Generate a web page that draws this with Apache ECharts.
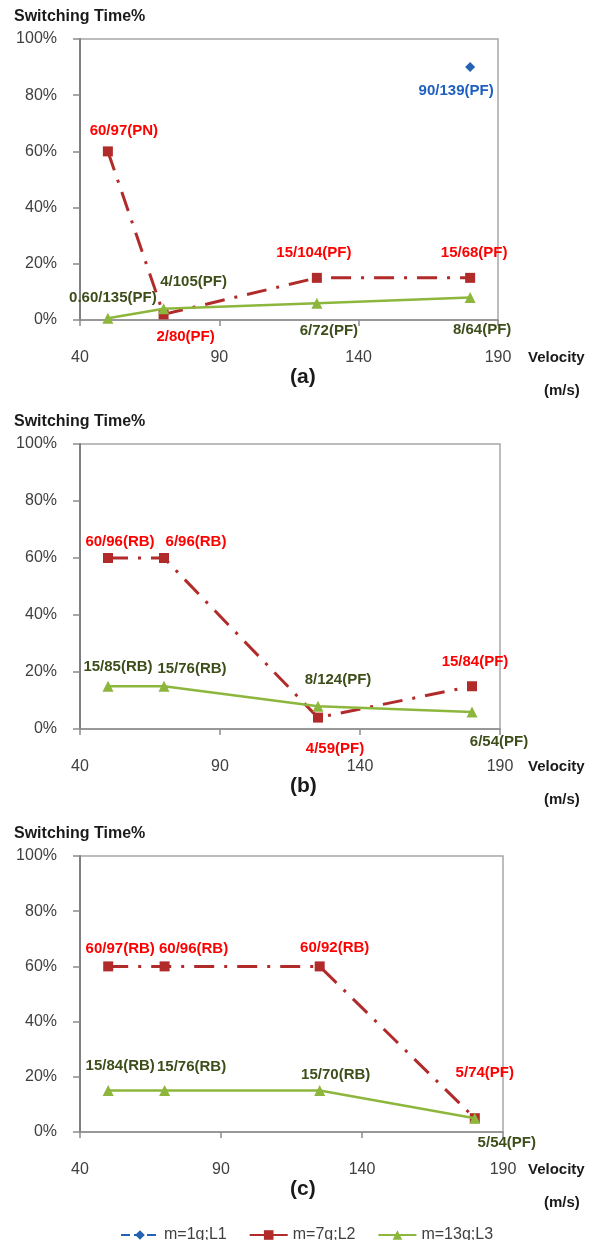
<!DOCTYPE html>
<html>
<head>
<meta charset="utf-8">
<script src="https://cdn.jsdelivr.net/npm/echarts@6/dist/echarts.min.js"></script>
<style>
  html, body { margin: 0; padding: 0; background: #ffffff; }
  #chart { width: 600px; height: 1240px; }
</style>
</head>
<body>
<div id="chart"></div>
<script>
// ---- data -------------------------------------------------------------
const velocity = [50, 70, 125, 180];          // m/s
const xRange = [40, 190];
const xStep = 50;
const yRange = [0, 100];
const yStep = 20;
const seriesNames = ['m=1g;L1', 'm=7g;L2', 'm=13g;L3'];
const panelNames = ['(a)', '(b)', '(c)'];

// panel (a)
const l1A = [null, null, null, 90];
const l1ALabels = ['', '', '', '90/139(PF)'];
const l2A = [60, 2, 15, 15];
const l2ALabels = ['60/97(PN)', '2/80(PF)', '15/104(PF)', '15/68(PF)'];
const l3A = [0.6, 4, 6, 8];
const l3ALabels = ['0.60/135(PF)', '4/105(PF)', '6/72(PF)', '8/64(PF)'];

// panel (b)
const l2B = [60, 60, 4, 15];
const l2BLabels = ['60/96(RB)', '6/96(RB)', '4/59(PF)', '15/84(PF)'];
const l3B = [15, 15, 8, 6];
const l3BLabels = ['15/85(RB)', '15/76(RB)', '8/124(PF)', '6/54(PF)'];

// panel (c)
const l2C = [60, 60, 60, 5];
const l2CLabels = ['60/97(RB)', '60/96(RB)', '60/92(RB)', '5/74(PF)'];
const l3C = [15, 15, 15, 5];
const l3CLabels = ['15/84(RB)', '15/76(RB)', '15/70(RB)', '5/54(PF)'];

// ---- layout & style ----------------------------------------------------
const FONT = 'Arial, "Liberation Sans", Helvetica, sans-serif';

const panelBoxes = [
  { left: 80, top: 39,  width: 418, height: 281 },
  { left: 80, top: 444, width: 420, height: 285 },
  { left: 80, top: 856, width: 423, height: 276 }
];

// label offsets (px) from each marker, per panel and line
const labelShift = [
  { l1: [null, null, null, [-14, 24]],
    l2: [[16, -21], [22, 22], [-3, -25], [4, -25]],
    l3: [[5, -20], [30, -27], [12, 28], [12, 32]] },
  { l2: [[12, -16], [32, -16], [17, 31], [3, -24]],
    l3: [[10, -19], [28, -17], [20, -26], [27, 30]] },
  { l2: [[12, -18], [29, -18], [15, -19], [10, -45]],
    l3: [[12, -25], [27, -24], [16, -16], [32, 25]] }
];

const lineStyles = {
  l1: { name: seriesNames[0], color: '#2462B4', symbol: 'diamond', symbolSize: 10,
        type: [7, 4], width: 2.5, labelColor: '#1F5FBF' },
  l2: { name: seriesNames[1], color: '#B22B2B', symbol: 'rect', symbolSize: 10,
        type: [20, 10, 3, 10], width: 3, labelColor: '#FF0000' },
  l3: { name: seriesNames[2], color: '#8DB63C', symbol: 'triangle', symbolSize: 11,
        type: 'solid', width: 2.5, labelColor: '#3E4E1B' }
};

const panels = [
  { l1: [l1A, l1ALabels], l2: [l2A, l2ALabels], l3: [l3A, l3ALabels] },
  { l1: null,             l2: [l2B, l2BLabels], l3: [l3B, l3BLabels] },
  { l1: null,             l2: [l2C, l2CLabels], l3: [l3C, l3CLabels] }
];

// ---- build options ------------------------------------------------------
const grids = [], xAxes = [], yAxes = [], series = [], graphics = [];

panels.forEach((panel, p) => {
  const box = panelBoxes[p];
  grids.push({
    left: box.left, top: box.top, width: box.width, height: box.height,
    show: true, borderColor: '#A6A6A6', borderWidth: 1.5,
    backgroundColor: 'transparent', outerBoundsMode: 'none'
  });
  xAxes.push({
    type: 'value', gridIndex: p, min: xRange[0], max: xRange[1], interval: xStep,
    axisLine: { show: true, onZero: false, lineStyle: { color: '#8C8C8C', width: 1.5 } },
    axisTick: { show: true, length: 6, lineStyle: { color: '#8C8C8C', width: 1.5 } },
    axisLabel: { fontSize: 16, color: '#404040', fontFamily: FONT, margin: 30 },
    splitLine: { show: false }
  });
  yAxes.push({
    type: 'value', gridIndex: p, min: yRange[0], max: yRange[1], interval: yStep,
    axisLine: { show: true, lineStyle: { color: '#808080', width: 2 } },
    axisTick: { show: true, length: 7, lineStyle: { color: '#8C8C8C', width: 1.5 } },
    axisLabel: { fontSize: 16, color: '#404040', fontFamily: FONT, margin: 23,
                 formatter: '{value}%' },
    splitLine: { show: false }
  });

  ['l1', 'l2', 'l3'].forEach(key => {
    const st = lineStyles[key];
    const entry = panel[key];
    const data = [];
    const shifts = [];
    if (entry) {
      const [vals, labels] = entry;
      vals.forEach((v, i) => {
        if (v === null) return;
        shifts.push(labelShift[p][key][i]);
        data.push({
          value: [velocity[i], v],
          label: {
            show: true, formatter: labels[i], position: 'inside',
            color: st.labelColor, fontSize: 15,
            fontWeight: 'bold', fontFamily: FONT
          }
        });
      });
    }
    series.push({
      name: st.name, type: 'line', xAxisIndex: p, yAxisIndex: p,
      data: data, symbol: st.symbol, symbolSize: st.symbolSize,
      showAllSymbol: true, animation: false, silent: true,
      z: key === 'l3' ? 4 : (key === 'l2' ? 3 : 2),
      itemStyle: { color: st.color },
      lineStyle: { color: st.color, width: st.width, type: st.type },
      labelLayout: function (params) {
        const s = shifts[params.dataIndex] || [0, 0];
        return { dx: s[0], dy: s[1], hideOverlap: false };
      }
    });
  });

  // panel texts
  const axisY = box.top + box.height;
  graphics.push(
    { type: 'text', left: 14, top: box.top - 30,
      style: { text: 'Switching Time%', font: 'bold 16px ' + FONT, fill: '#1a1a1a' } },
    { type: 'text', left: 528, top: axisY + 30,
      style: { text: 'Velocity', font: 'bold 15px ' + FONT, fill: '#1a1a1a' } },
    { type: 'text', left: 544, top: axisY + 63,
      style: { text: '(m/s)', font: 'bold 15px ' + FONT, fill: '#1a1a1a' } },
    { type: 'text', left: 290, top: axisY + 47,
      style: { text: panelNames[p], font: 'bold 21px ' + FONT, fill: '#1a1a1a' } }
  );
});

const chart = echarts.init(document.getElementById('chart'), null, { renderer: 'canvas' });
chart.setOption({
  backgroundColor: '#ffffff',
  animation: false,
  grid: grids,
  xAxis: xAxes,
  yAxis: yAxes,
  series: series,
  graphic: graphics,
  legend: {
    data: [
      { name: seriesNames[0], lineStyle: { type: [9, 4] } },
      { name: seriesNames[1], lineStyle: { type: 'solid' } },
      { name: seriesNames[2], lineStyle: { type: 'solid' } }
    ],
    left: 120, top: 1227, padding: 0,
    itemWidth: 38, itemHeight: 12, itemGap: 22,
    textStyle: { fontSize: 16, color: '#404040', fontFamily: FONT }
  }
});
</script>
</body>
</html>
